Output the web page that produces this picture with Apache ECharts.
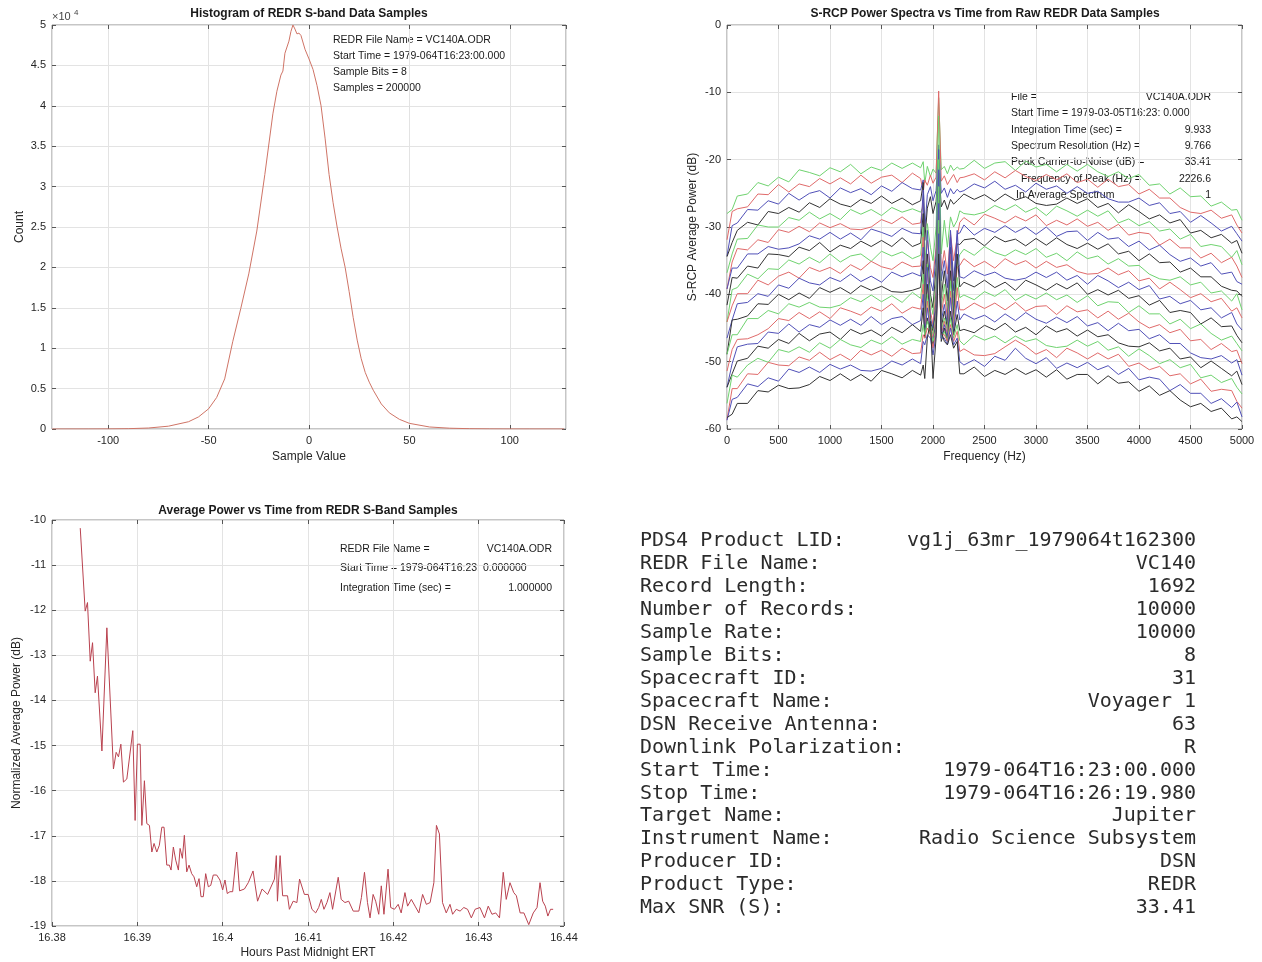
<!DOCTYPE html>
<html>
<head>
<meta charset="utf-8">
<title>VC140 REDR summary plots</title>
<script src="https://cdn.jsdelivr.net/npm/echarts@6/dist/echarts.min.js"></script>
<style>
  html, body { margin: 0; padding: 0; background: #fff; }
  #main { width: 1262px; height: 962px; }
</style>
</head>
<body>
<div id="main"></div>
<script>
// histogram of 8-bit sample values
const sampleValues = [-128, -110, -100, -90, -80, -70, -60, -55, -50, -46, -42, -38, -34, -30, -26, -22, -18, -16, -14, -13,
  -12, -10, -9, -8, -7, -6, -5, -4, -2, 0, 2, 4, 6, 8, 10, 12, 14, 16, 18, 20,
  22, 24, 26, 28, 30, 32, 36, 40, 45, 50, 60, 70, 80, 90, 100, 110, 127];
const sampleCounts = [0, 3, 10, 40, 120, 350, 900, 1500, 2500, 3900, 6200, 10800, 14900, 19200, 24500, 31500, 39000, 41800, 43800, 44300,
  46500, 48000, 49200, 50000, 49500, 48900, 49000, 48700, 47000, 45800, 44500, 42500, 40000, 36000, 31500, 28000, 25000, 22300, 20000, 17000,
  13800, 11000, 8700, 7000, 5800, 4800, 3100, 2000, 1200, 700, 250, 100, 40, 15, 5, 2, 0];

// power spectra, one array per record (top to bottom)
const spectrumFreqs = [0, 50, 100, 200, 300, 400, 500, 600, 700, 800, 900, 1000, 1100, 1200, 1300, 1400, 1500, 1600, 1700, 1800,
  1880, 1905, 1920, 1945, 1975, 2000, 2030, 2055, 2080, 2110, 2140, 2170, 2200, 2235, 2260,
  2300, 2400, 2500, 2600, 2700, 2800, 2900, 3000, 3100, 3200, 3300, 3400, 3500, 3600, 3700, 3800, 3900, 4000,
  4100, 4200, 4300, 4400, 4500, 4600, 4700, 4800, 4900, 4950, 5000];
const spectrum01 = [-28.0, -27.4, -25.4, -25.1, -23.4, -23.9, -22.6, -23.3, -21.5, -21.9, -22.4, -21.2, -21.8, -20.7, -22.1, -21.1, -21.6, -20.5, -21.3, -20.5,
  -21.2, -20.3, -23.5, -21.0, -22.5, -21.4, -22.0, -10.8, -21.5, -21.0, -22.1, -20.8, -21.6, -21.1, -21.4,
  -21.3, -20.1, -21.3, -20.5, -20.3, -21.6, -20.2, -21.1, -20.7, -21.8, -20.7, -21.7, -20.7, -21.8, -22.5, -21.8, -22.8, -22.2, -23.8, -23.6, -25.1, -24.2, -25.5, -25.4, -26.9, -26.3, -27.5, -27.4, -29.0];
const spectrum02 = [-31.9, -27.7, -27.3, -27.0, -25.1, -25.2, -23.7, -24.8, -23.6, -24.0, -22.8, -23.6, -22.7, -23.6, -22.3, -23.5, -22.6, -22.3, -23.4, -22.0,
  -22.8, -24.9, -23.0, -23.8, -22.3, -23.5, -22.6, -9.8, -23.2, -22.4, -23.7, -22.9, -22.2, -23.4, -22.7,
  -22.6, -22.1, -23.0, -21.8, -22.7, -21.6, -22.5, -23.1, -22.2, -23.0, -22.1, -23.4, -22.9, -24.1, -22.9, -24.0, -23.7, -25.1, -24.4, -25.7, -25.7, -27.1, -27.8, -28.0, -27.5, -28.7, -28.2, -29.7, -30.9];
const spectrum03 = [-34.3, -29.8, -29.4, -27.4, -27.5, -26.1, -26.6, -25.0, -26.0, -25.0, -24.6, -25.7, -24.2, -24.9, -24.3, -25.2, -23.9, -24.7, -23.4, -24.3,
  -24.5, -23.0, -30.5, -25.2, -24.0, -26.1, -24.6, -17.8, -25.0, -24.2, -25.6, -24.3, -25.1, -24.4, -24.8,
  -24.6, -23.6, -24.2, -23.2, -24.4, -23.8, -24.8, -23.5, -24.4, -23.9, -25.0, -24.0, -25.0, -24.7, -25.8, -26.3, -26.3, -25.7, -26.8, -26.4, -28.0, -27.7, -29.3, -28.3, -29.4, -30.6, -29.9, -31.0, -32.1];
const spectrum04 = [-34.4, -32.3, -30.5, -29.3, -29.7, -27.7, -28.0, -27.1, -27.8, -26.4, -27.1, -25.8, -26.6, -27.0, -25.9, -26.5, -25.4, -26.5, -25.7, -26.7,
  -26.1, -23.4, -32.0, -27.2, -25.5, -28.0, -26.2, -20.5, -27.0, -26.0, -27.4, -25.9, -26.6, -26.1, -25.7,
  -25.1, -25.9, -25.2, -26.2, -25.1, -26.0, -25.5, -26.5, -26.8, -26.6, -25.7, -26.5, -25.8, -27.1, -26.5, -27.9, -26.7, -27.7, -28.8, -28.2, -29.4, -28.9, -30.9, -30.5, -31.6, -31.1, -32.4, -32.0, -33.9];
const spectrum05 = [-36.8, -34.0, -31.8, -31.7, -29.7, -30.0, -30.0, -28.6, -29.0, -27.8, -28.8, -28.0, -28.9, -27.4, -28.1, -27.4, -28.3, -27.1, -27.8, -27.3,
  -27.8, -27.0, -36.0, -29.5, -33.0, -35.0, -30.0, -13.5, -34.0, -29.0, -33.0, -28.5, -30.0, -29.0, -27.6,
  -28.0, -28.2, -27.8, -26.8, -27.5, -26.7, -27.8, -27.1, -28.3, -26.9, -27.6, -28.4, -27.5, -28.4, -27.6, -29.4, -28.8, -29.8, -29.2, -30.6, -30.3, -31.8, -31.1, -32.9, -32.6, -32.9, -34.5, -33.5, -35.6];
const spectrum06 = [-39.2, -35.2, -33.2, -33.4, -31.9, -32.3, -30.4, -30.8, -29.9, -30.7, -29.4, -30.1, -29.5, -30.3, -30.4, -30.0, -28.9, -29.5, -28.5, -29.6,
  -29.4, -26.0, -38.0, -32.0, -36.0, -37.5, -33.0, -25.0, -36.5, -33.5, -37.0, -31.0, -35.0, -31.5, -29.3,
  -28.6, -29.7, -28.1, -28.7, -29.4, -28.4, -29.1, -28.2, -29.8, -29.0, -29.7, -28.8, -29.9, -29.3, -30.5, -29.6, -31.2, -30.8, -31.0, -32.7, -31.8, -33.1, -33.1, -34.6, -33.9, -35.3, -34.5, -35.8, -37.5];
const spectrum07 = [-39.2, -36.1, -36.1, -34.0, -34.0, -32.9, -33.3, -33.1, -32.5, -31.3, -31.8, -30.8, -31.8, -30.9, -31.9, -30.3, -30.8, -31.4, -30.2, -30.9,
  -31.0, -24.5, -40.0, -30.5, -38.0, -39.5, -34.0, -18.5, -38.0, -35.0, -39.0, -30.5, -38.0, -31.0, -30.9,
  -29.7, -31.2, -30.2, -30.8, -29.8, -30.8, -30.0, -31.1, -30.0, -31.4, -30.7, -30.6, -32.0, -30.8, -31.8, -31.6, -32.9, -32.1, -33.4, -32.7, -34.1, -35.1, -34.6, -35.8, -35.3, -37.0, -36.7, -38.1, -38.5];
const spectrum08 = [-41.6, -37.5, -37.6, -35.8, -36.1, -34.0, -34.1, -34.4, -33.0, -33.5, -32.3, -33.7, -32.7, -33.2, -32.1, -32.9, -32.0, -32.9, -31.6, -32.9,
  -32.4, -28.0, -41.5, -34.0, -40.0, -42.0, -36.0, -22.0, -40.5, -36.5, -41.0, -33.0, -39.5, -32.5, -32.6,
  -31.9, -31.7, -32.8, -31.4, -32.2, -31.8, -32.8, -31.7, -32.7, -31.6, -32.6, -33.2, -32.4, -33.3, -32.5, -34.0, -33.6, -35.0, -34.0, -35.3, -35.2, -36.7, -36.1, -37.4, -37.4, -38.8, -39.4, -39.5, -40.3];
const spectrum09 = [-44.1, -39.3, -39.0, -37.0, -37.7, -36.2, -36.3, -34.9, -35.5, -34.5, -35.3, -34.0, -35.2, -34.3, -34.0, -35.1, -33.6, -34.3, -33.7, -34.7,
  -34.2, -30.0, -42.0, -35.5, -41.0, -43.0, -38.0, -20.0, -42.0, -38.5, -42.5, -35.0, -40.5, -35.5, -34.1,
  -33.3, -34.2, -32.9, -33.8, -34.3, -33.4, -34.1, -33.2, -34.5, -33.9, -35.0, -33.7, -34.7, -34.3, -35.5, -34.7, -35.8, -35.7, -37.0, -37.7, -37.9, -37.4, -38.6, -38.2, -39.8, -39.5, -41.0, -39.9, -42.3];
const spectrum10 = [-44.1, -41.7, -39.9, -39.9, -37.9, -38.6, -37.3, -36.7, -37.6, -36.0, -36.6, -36.0, -36.9, -35.6, -36.4, -35.1, -35.9, -36.3, -35.2, -35.9,
  -35.8, -31.5, -43.5, -36.5, -42.5, -44.5, -39.5, -24.5, -43.0, -40.0, -43.5, -34.0, -42.0, -36.0, -35.7,
  -34.7, -35.9, -35.1, -36.1, -34.7, -35.6, -35.0, -36.1, -35.1, -36.0, -35.6, -36.6, -37.0, -36.9, -36.1, -37.1, -36.5, -38.0, -37.6, -39.2, -38.2, -39.3, -40.5, -39.9, -41.1, -40.6, -42.5, -42.0, -43.5];
const spectrum11 = [-46.5, -43.8, -41.4, -41.2, -39.9, -40.3, -38.6, -39.1, -37.6, -38.3, -38.6, -37.5, -38.1, -37.0, -38.1, -37.3, -38.2, -36.7, -37.4, -36.8,
  -37.3, -33.0, -44.0, -36.0, -43.5, -45.0, -41.0, -21.5, -44.0, -41.5, -44.5, -31.5, -43.0, -30.5, -37.4,
  -37.6, -36.5, -37.2, -36.7, -37.6, -37.9, -37.6, -36.7, -37.5, -36.7, -37.9, -37.2, -38.5, -37.2, -38.0, -39.0, -38.2, -39.3, -38.7, -40.7, -40.3, -41.4, -40.9, -42.3, -42.0, -43.5, -42.7, -44.4, -45.3];
const spectrum12 = [-48.9, -43.8, -43.7, -43.2, -41.4, -41.5, -40.0, -40.8, -39.8, -40.6, -39.0, -39.7, -39.0, -39.9, -38.7, -39.4, -38.8, -39.6, -39.7, -39.4,
  -39.0, -35.0, -44.5, -38.5, -44.0, -45.5, -42.0, -26.0, -45.0, -42.5, -45.0, -36.5, -44.0, -34.0, -38.9,
  -38.2, -38.9, -37.9, -39.0, -38.2, -39.4, -37.9, -38.6, -39.4, -38.4, -39.2, -38.3, -40.0, -39.3, -40.1, -39.4, -40.6, -40.2, -41.6, -40.9, -42.7, -42.4, -42.7, -44.4, -43.5, -44.8, -44.7, -46.1, -47.2];
const spectrum13 = [-48.9, -46.0, -46.0, -43.6, -43.6, -42.4, -42.9, -41.4, -41.9, -41.2, -41.9, -42.0, -41.6, -40.5, -41.1, -40.1, -41.1, -40.2, -41.2, -39.7,
  -40.6, -37.0, -45.0, -40.0, -44.5, -46.0, -43.0, -24.0, -45.5, -43.5, -45.5, -38.0, -44.5, -37.5, -40.5,
  -40.1, -40.8, -39.6, -40.3, -39.3, -40.9, -40.0, -40.7, -39.8, -40.8, -40.1, -41.2, -40.2, -41.7, -41.1, -41.2, -42.7, -41.7, -42.9, -42.9, -44.4, -43.7, -45.1, -44.4, -45.8, -46.8, -46.2, -47.3, -48.4];
const spectrum14 = [-51.4, -48.2, -46.7, -46.6, -46.0, -45.1, -43.6, -43.9, -42.7, -43.6, -42.6, -43.6, -42.0, -42.5, -43.1, -41.9, -42.5, -41.4, -42.8, -41.9,
  -42.2, -38.5, -45.5, -41.0, -45.0, -46.5, -43.5, -28.0, -46.0, -44.0, -46.0, -39.5, -45.0, -39.0, -42.3,
  -42.3, -41.3, -42.1, -41.3, -42.3, -41.2, -42.5, -41.8, -41.7, -43.0, -41.7, -42.6, -42.3, -43.5, -42.5, -43.7, -42.8, -44.1, -45.0, -44.5, -45.7, -45.2, -46.9, -46.7, -48.2, -47.3, -48.5, -48.3, -50.3];
const spectrum15 = [-53.8, -50.3, -47.8, -47.4, -47.3, -45.6, -45.8, -44.4, -45.6, -44.5, -44.9, -43.8, -44.6, -43.7, -44.6, -43.3, -44.5, -43.6, -43.3, -44.5,
  -43.9, -40.0, -46.0, -42.0, -45.5, -47.0, -44.0, -26.5, -46.5, -44.5, -46.5, -40.5, -45.5, -41.0, -43.8,
  -42.9, -43.7, -43.1, -44.1, -42.9, -43.9, -42.7, -43.7, -44.3, -43.4, -44.2, -43.3, -44.7, -44.2, -45.4, -44.3, -45.4, -45.2, -46.6, -46.0, -47.3, -47.3, -48.7, -49.4, -49.6, -49.1, -50.2, -49.7, -52.0];
const spectrum16 = [-53.8, -51.8, -49.9, -49.5, -47.7, -48.0, -46.7, -47.3, -45.8, -46.9, -45.9, -45.6, -46.7, -45.2, -45.9, -45.3, -46.2, -44.9, -45.7, -44.5,
  -45.5, -42.0, -46.5, -43.5, -46.0, -47.5, -44.5, -30.0, -47.0, -45.0, -47.0, -42.5, -46.0, -43.0, -45.4,
  -45.2, -45.7, -44.6, -45.3, -44.3, -45.6, -44.9, -46.0, -44.7, -45.6, -45.1, -46.2, -45.3, -46.3, -46.0, -47.2, -47.7, -47.8, -47.2, -48.4, -48.0, -49.6, -49.3, -50.9, -49.9, -51.0, -52.1, -51.4, -53.4];
const spectrum17 = [-56.2, -52.0, -52.3, -50.5, -49.5, -50.1, -48.2, -48.6, -47.8, -48.6, -47.2, -48.0, -46.7, -47.5, -47.9, -46.8, -47.4, -46.3, -47.4, -46.7,
  -47.0, -44.5, -46.0, -44.0, -45.5, -47.0, -45.0, -29.0, -46.5, -45.5, -47.0, -43.5, -46.5, -44.5, -46.9,
  -47.5, -46.1, -46.8, -46.2, -47.2, -46.2, -47.0, -46.6, -47.6, -47.9, -47.7, -46.8, -47.7, -47.0, -48.3, -47.8, -49.2, -48.1, -49.1, -50.3, -49.7, -50.9, -50.4, -52.4, -52.0, -53.1, -52.5, -53.8, -54.8];
const spectrum18 = [-58.6, -54.0, -54.0, -51.8, -51.9, -50.1, -50.5, -50.6, -49.3, -49.8, -48.6, -49.7, -48.9, -49.8, -48.3, -49.0, -48.3, -49.2, -48.0, -48.8,
  -48.7, -46.0, -46.5, -45.0, -46.0, -48.0, -45.5, -33.0, -46.0, -46.0, -47.0, -44.5, -47.0, -45.5, -48.5,
  -48.1, -49.0, -49.1, -48.8, -47.8, -46.8, -47.7, -48.9, -48.2, -49.4, -48.0, -48.7, -49.6, -48.7, -49.6, -48.9, -50.7, -50.2, -51.2, -50.7, -52.1, -51.8, -53.3, -52.6, -54.4, -54.1, -54.3, -55.9, -56.9];
const spectrum19 = [-58.7, -55.6, -55.3, -53.3, -53.7, -52.4, -52.9, -51.1, -51.6, -50.8, -51.6, -50.4, -51.1, -50.5, -51.3, -51.4, -51.0, -49.9, -50.5, -49.6,
  -50.3, -47.0, -47.5, -46.0, -46.5, -49.0, -46.0, -31.0, -46.5, -46.5, -47.5, -45.0, -47.5, -46.5, -50.0,
  -50.5, -49.7, -50.7, -49.2, -49.8, -48.0, -49.5, -50.3, -49.4, -51.0, -50.2, -50.9, -50.1, -51.2, -50.6, -51.9, -51.0, -52.7, -52.3, -52.6, -54.3, -53.4, -54.7, -54.7, -56.2, -55.5, -56.8, -56.0, -58.2];
const spectrum20 = [-58.3, -57.8, -56.2, -56.2, -54.3, -54.5, -53.5, -54.0, -53.9, -53.4, -52.2, -52.8, -51.8, -52.8, -51.9, -52.9, -51.3, -51.8, -52.4, -51.3,
  -52.0, -50.5, -52.5, -46.5, -44.0, -52.5, -46.5, -34.0, -45.5, -47.0, -47.5, -46.0, -48.0, -47.0, -51.8,
  -51.8, -50.8, -52.2, -51.3, -51.9, -51.0, -51.9, -51.2, -52.3, -51.2, -52.6, -51.9, -51.9, -53.3, -52.1, -53.2, -53.0, -54.4, -53.6, -55.0, -54.3, -55.7, -56.7, -56.2, -57.4, -56.9, -58.5, -58.2, -58.9];

// average power, 1 s integrations
const powerHours = [16.38331, 16.38389, 16.38416, 16.38448, 16.38475, 16.38506, 16.38533, 16.38585, 16.38643, 16.3872,
  16.38752, 16.38779, 16.38807, 16.38837, 16.38877, 16.38947, 16.38974, 16.39001, 16.39033, 16.39053,
  16.39083, 16.39111, 16.39142, 16.3917, 16.39196, 16.39228, 16.39258, 16.39287, 16.39313, 16.39345,
  16.39375, 16.39395, 16.39422, 16.3945, 16.39481, 16.39501, 16.39528, 16.39551, 16.39579, 16.39606,
  16.39637, 16.39664, 16.39696, 16.39723, 16.39746, 16.39773, 16.39801, 16.39832, 16.3986, 16.3989,
  16.3993, 16.39968, 16.4, 16.40027, 16.40054, 16.40085, 16.40117, 16.40164, 16.40198, 16.40255,
  16.403, 16.40356, 16.40409, 16.40462, 16.40527, 16.40607, 16.40629, 16.40642, 16.40673, 16.40703,
  16.4076, 16.40782, 16.40826, 16.4087, 16.40901, 16.40958, 16.41002, 16.41046, 16.4109, 16.41125,
  16.41156, 16.41187, 16.41222, 16.41257, 16.41288, 16.41354, 16.41389, 16.41433, 16.41477, 16.4153,
  16.41596, 16.41626, 16.41662, 16.41697, 16.41727, 16.41763, 16.41793, 16.41829, 16.41859, 16.4189,
  16.41938, 16.41969, 16.42013, 16.42057, 16.42092, 16.42136, 16.42167, 16.42211, 16.42255, 16.42299,
  16.42343, 16.42387, 16.42431, 16.42475, 16.42505, 16.4254, 16.42576, 16.4262, 16.42664, 16.42695,
  16.42738, 16.42782, 16.42826, 16.4287, 16.42914, 16.42958, 16.43015, 16.43068, 16.43112, 16.43156,
  16.432, 16.43244, 16.43288, 16.43323, 16.43367, 16.43411, 16.43442, 16.43486, 16.4353, 16.43587,
  16.4364, 16.43684, 16.43719, 16.4375, 16.43781, 16.43811, 16.43842, 16.43873];
const powerDb = [-10.18, -12.02, -11.83, -13.13, -12.72, -13.83, -13.46, -15.12, -12.39, -15.52,
  -15.15, -15.25, -14.97, -15.81, -15.74, -14.67, -16.66, -14.97, -14.97, -16.77,
  -15.78, -16.73, -16.77, -17.36, -17.17, -17.36, -17.21, -16.81, -16.81, -17.65,
  -17.65, -17.76, -17.25, -17.54, -17.76, -17.28, -17.5, -16.99, -17.8, -17.65,
  -17.84, -17.91, -18.13, -17.95, -18.35, -18.35, -17.84, -18.13, -18.1, -17.87,
  -17.87, -17.98, -18.2, -17.98, -18.28, -18.24, -18.24, -17.36, -18.22, -18.18,
  -18.04, -17.78, -18.45, -18.18, -18.3, -17.96, -17.44, -18.45, -17.44, -18.33,
  -18.33, -18.63, -18.45, -18.48, -17.96, -18.3, -18.3, -18.63, -18.71, -18.59,
  -18.41, -18.63, -18.48, -18.26, -18.63, -17.92, -18.41, -18.48, -18.45, -18.67,
  -18.67, -18.37, -17.81, -18.48, -18.82, -18.3, -18.45, -18.74, -18.11, -18.74,
  -17.74, -18.59, -18.63, -18.52, -18.71, -18.26, -18.56, -18.41, -18.56, -18.71,
  -18.3, -18.52, -18.48, -18.04, -16.77, -16.96, -18.48, -18.71, -18.52, -18.74,
  -18.63, -18.67, -18.59, -18.63, -18.82, -18.63, -18.59, -18.82, -18.56, -18.74,
  -18.71, -18.82, -17.81, -18.41, -18.04, -18.26, -18.33, -18.71, -18.71, -18.97,
  -18.71, -18.59, -18.04, -18.45, -18.56, -18.78, -18.63, -18.63];

// annotation text
const histNotes = ['REDR File Name = VC140A.ODR', 'Start Time = 1979-064T16:23:00.000', 'Sample Bits = 8', 'Samples = 200000'];
const specNoteLabels = ['File =', 'Start Time = 1979-03-05T16:23: 0.000', 'Integration Time (sec) =', 'Spectrum Resolution (Hz) =',
  'Peak Carrier-to-Noise (dB) =', 'Frequency of Peak (Hz) =', 'In Average Spectrum'];
const specNoteValues = ['VC140A.ODR', '', '9.933', '9.766', '33.41', '2226.6', '1'];
const powerNoteLabels = ['REDR File Name =', 'Start Time = 1979-064T16:23: 0.000000', 'Integration Time (sec) ='];
const powerNoteValues = ['VC140A.ODR', '', '1.000000'];
const tableLabels = ['PDS4 Product LID:', 'REDR File Name:', 'Record Length:', 'Number of Records:', 'Sample Rate:', 'Sample Bits:',
  'Spacecraft ID:', 'Spacecraft Name:', 'DSN Receive Antenna:', 'Downlink Polarization:', 'Start Time:', 'Stop Time:',
  'Target Name:', 'Instrument Name:', 'Producer ID:', 'Product Type:', 'Max SNR (S):'];
const tableValues = ['vg1j_63mr_1979064t162300', 'VC140', '1692', '10000', '10000', '8', '31', 'Voyager 1', '63', 'R',
  '1979-064T16:23:00.000', '1979-064T16:26:19.980', 'Jupiter', 'Radio Science Subsystem', 'DSN', 'REDR', '33.41'];

const spectra = [spectrum01, spectrum02, spectrum03, spectrum04, spectrum05, spectrum06, spectrum07, spectrum08, spectrum09, spectrum10,
  spectrum11, spectrum12, spectrum13, spectrum14, spectrum15, spectrum16, spectrum17, spectrum18, spectrum19, spectrum20];
const traceColors = ['#6fd36f', '#e06a6a', '#5050b8', '#333333'];

const FONT = '"Liberation Sans", Arial, Helvetica, sans-serif';
const MONO = '"DejaVu Sans Mono", "Liberation Mono", monospace';

function labelStyle(extra) {
  return Object.assign({ color: '#262626', fontSize: 11, fontFamily: FONT, margin: 6 }, extra);
}

function mainAxis(gridIndex, extra) {
  return Object.assign({
    type: 'value',
    gridIndex: gridIndex,
    axisLine: { show: false, onZero: false },
    axisTick: { inside: true, length: 4, lineStyle: { color: '#555' } },
    splitLine: { show: true, lineStyle: { color: '#e3e3e3', width: 1 } },
    axisLabel: labelStyle(),
    nameLocation: 'middle',
    nameTextStyle: { color: '#262626', fontSize: 12, fontFamily: FONT }
  }, extra);
}

function mirrorAxis(gridIndex, position, extra) {
  return Object.assign({
    type: 'value',
    gridIndex: gridIndex,
    position: position,
    axisLine: { show: false, onZero: false },
    axisTick: { inside: true, length: 4, lineStyle: { color: '#555' } },
    axisLabel: { show: false },
    splitLine: { show: false }
  }, extra);
}

const histX = { min: -128, max: 128, splitNumber: 5, minInterval: 50, maxInterval: 50 };
const histY = { min: 0, max: 50000, interval: 5000 };
const specX = { min: 0, max: 5000, interval: 500 };
const specY = { min: -60, max: 0, interval: 10 };
const powX = { min: 16.38, max: 16.44, interval: 0.01 };
const powY = { min: -19, max: -10, interval: 1 };

function textEl(x, y, text, font, align, color) {
  return {
    type: 'text', x: x, y: y, silent: true,
    style: { text: text, font: font, textAlign: align || 'left', textVerticalAlign: 'middle', fill: color || '#1a1a1a' }
  };
}

const graphics = [];
// titles
graphics.push(textEl(309, 14, 'Histogram of REDR S-band Data Samples', 'bold 12px ' + FONT, 'center'));
graphics.push(textEl(985, 14, 'S-RCP Power Spectra vs Time from Raw REDR Data Samples', 'bold 12px ' + FONT, 'center'));
graphics.push(textEl(308, 511, 'Average Power vs Time from REDR S-Band Samples', 'bold 12px ' + FONT, 'center'));
// x10^4 exponent
graphics.push(textEl(52, 17, '\u00d710', '11px ' + FONT, 'left', '#444'));
graphics.push(textEl(74, 13, '4', '8px ' + FONT, 'left', '#444'));

histNotes.forEach(function (t, i) {
  graphics.push(textEl(333, 40 + i * 16.2, t, '10.5px ' + FONT));
});
specNoteLabels.forEach(function (t, i) {
  const x = i >= 5 ? (i === 5 ? 1021 : 1016) : 1011;
  graphics.push(textEl(x, 97 + i * 16.4, t, '10.5px ' + FONT));
  if (specNoteValues[i]) graphics.push(textEl(1211, 97 + i * 16.4, specNoteValues[i], '10.5px ' + FONT, 'right'));
});
powerNoteLabels.forEach(function (t, i) {
  graphics.push(textEl(340, 549 + i * 19.5, t, '10.5px ' + FONT));
  if (powerNoteValues[i]) graphics.push(textEl(552, 549 + i * 19.5, powerNoteValues[i], '10.5px ' + FONT, 'right'));
});
tableLabels.forEach(function (t, i) {
  graphics.push(textEl(640, 541 + i * 22.94, t, '20px ' + MONO, 'left', '#2b2b2b'));
  graphics.push(textEl(1196, 541 + i * 22.94, tableValues[i], '20px ' + MONO, 'right', '#2b2b2b'));
});

const series = [];
series.push({
  type: 'line', xAxisIndex: 0, yAxisIndex: 0, showSymbol: false, silent: true,
  data: sampleValues.map(function (v, i) { return [v, sampleCounts[i]]; }),
  lineStyle: { width: 1, color: '#cf7466' }
});
spectra.forEach(function (vals, k) {
  series.push({
    type: 'line', xAxisIndex: 1, yAxisIndex: 1, showSymbol: false, silent: true,
    data: spectrumFreqs.map(function (f, i) { return [f, vals[i]]; }),
    lineStyle: { width: 1, color: traceColors[k % 4] }
  });
});
series.push({
  type: 'line', xAxisIndex: 2, yAxisIndex: 2, showSymbol: false, silent: true,
  data: powerHours.map(function (h, i) { return [h, powerDb[i]]; }),
  lineStyle: { width: 1, color: '#b9424f' }
});

const gridStyle = { show: true, borderColor: '#8c8c8c', borderWidth: 1, backgroundColor: 'transparent' };

const option = {
  animation: false,
  backgroundColor: '#ffffff',
  textStyle: { fontFamily: FONT },
  grid: [
    Object.assign({ left: 52, top: 25, width: 514, height: 404 }, gridStyle),
    Object.assign({ left: 727, top: 25, width: 515, height: 404 }, gridStyle),
    Object.assign({ left: 52, top: 520, width: 512, height: 406 }, gridStyle)
  ],
  xAxis: [
    mainAxis(0, Object.assign({ name: 'Sample Value', nameGap: 22,
      axisLabel: labelStyle({ showMinLabel: false, showMaxLabel: false }) }, histX)),
    mainAxis(1, Object.assign({ name: 'Frequency (Hz)', nameGap: 22,
      axisLabel: labelStyle({ formatter: function (v) { return String(v); } }) }, specX)),
    mainAxis(2, Object.assign({ name: 'Hours Past Midnight ERT', nameGap: 21,
      axisLabel: labelStyle({ formatter: function (v) { return String(parseFloat(v.toFixed(2))); } }) }, powX)),
    mirrorAxis(0, 'top', histX),
    mirrorAxis(1, 'top', specX),
    mirrorAxis(2, 'top', powX)
  ],
  yAxis: [
    mainAxis(0, Object.assign({ name: 'Count', nameGap: 26,
      axisLabel: labelStyle({ formatter: function (v) { return String(v / 10000); } }) }, histY)),
    mainAxis(1, Object.assign({ name: 'S-RCP Average Power (dB)', nameGap: 28 }, specY)),
    mainAxis(2, Object.assign({ name: 'Normalized Average Power (dB)', nameGap: 29 }, powY)),
    mirrorAxis(0, 'right', histY),
    mirrorAxis(1, 'right', specY),
    mirrorAxis(2, 'right', powY)
  ],
  series: series,
  graphic: { elements: graphics }
};

const chart = echarts.init(document.getElementById('main'), null, { renderer: 'canvas' });
chart.setOption(option);
</script>
</body>
</html>
